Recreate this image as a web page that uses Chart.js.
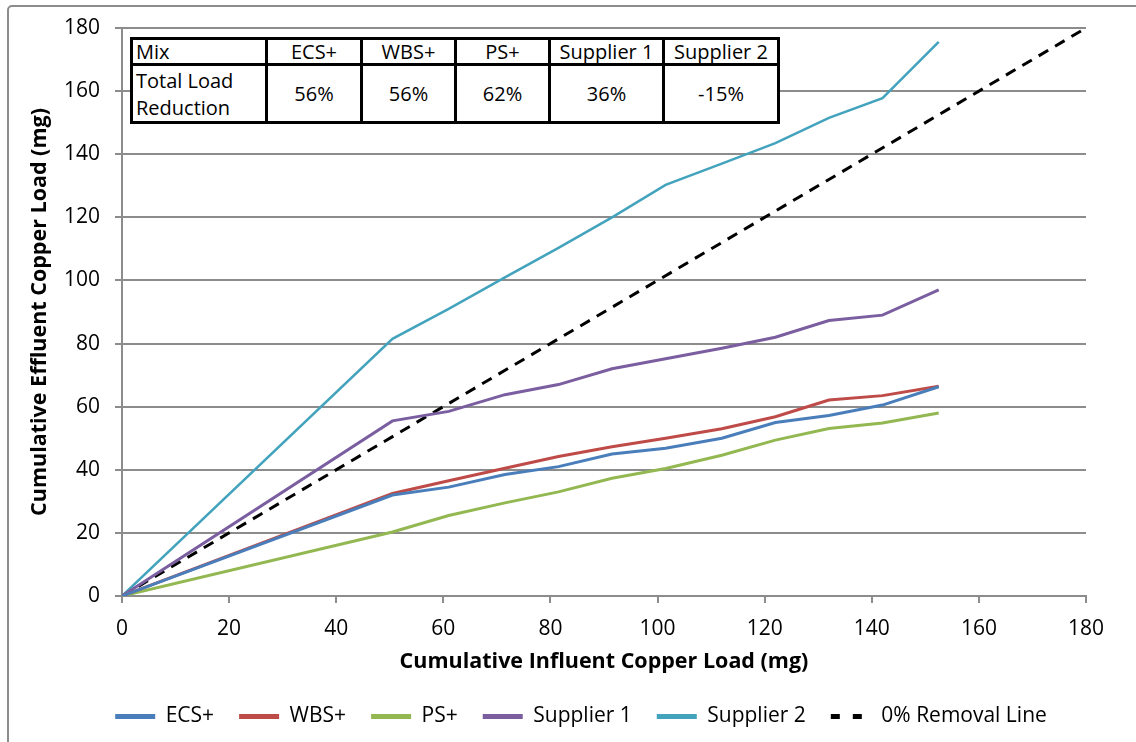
<!DOCTYPE html>
<html>
<head>
<meta charset="utf-8">
<script src="https://cdn.jsdelivr.net/npm/chart.js@4.4.0/dist/chart.umd.min.js"></script>
<style>
    body {margin: 0; background: #fff; overflow: hidden}
    #wrap {position: relative; width: 1136px; height: 742px}
    #frame {position: absolute; left: 7px; top: 5px; width: 1150px; height: 760px; border: 2px solid #8c8c8c; border-radius: 5px; box-sizing: border-box}
    #chart {position: absolute; left: 0; top: 0}
    #tbl {position: absolute; left: 130px; top: 37px; display: grid; background: #000; padding: 3px; gap: 3px;
          grid-template-columns: 132px 92px 91px 91px 111px 112px; grid-template-rows: 23px 55px;
          font-family: 'Open Sans', sans-serif; font-size: 20px; color: #000}
    #tbl div {background: #fff; display: flex; align-items: center; justify-content: center; line-height: 27px; white-space: nowrap}
    #tbl div.first {justify-content: flex-start; padding-left: 3px}
</style>
</head>
<body>
<div id="wrap">
    <div id="frame"></div>
    <canvas id="chart" width="1136" height="742"></canvas>
    <div id="tbl"></div>
</div>
<script>
// cumulative influent load (x), same sampling for every mix
const influent   = [0, 50.5, 61, 71.5, 81.5, 91.5, 101.5, 112, 122, 132, 142, 152.5]
const ecsPlus    = [0, 32, 34.5, 38.5, 41, 45, 46.8, 50, 55, 57.2, 60.5, 66.3]
const wbsPlus    = [0, 32.5, 36.5, 40.5, 44.2, 47.3, 50, 53, 56.8, 62.1, 63.5, 66.5]
const psPlus     = [0, 20.3, 25.5, 29.5, 33, 37.3, 40.4, 44.6, 49.4, 53.1, 54.8, 58]
const supplier1  = [0, 55.5, 58.5, 63.8, 67, 72, 75.2, 78.5, 82, 87.3, 89, 97]
const supplier2  = [0, 81.5, 91, 101, 110.3, 120, 130.3, 137, 143.5, 151.5, 157.8, 175.6]
const removalX   = [0, 180]
const removalY   = [0, 180]
const tickValues = [0, 20, 40, 60, 80, 100, 120, 140, 160, 180]

// table in the top left corner
const tableHead  = ['Mix', 'ECS+', 'WBS+', 'PS+', 'Supplier 1', 'Supplier 2']
const tableRow   = ['Total Load<br>Reduction', '56%', '56%', '62%', '36%', '-15%']

let tbl = document.getElementById('tbl')
tableHead.concat(tableRow).forEach(function (txt, i) {
    let cell = document.createElement('div')
    if (i % 6 === 0) cell.className = 'first'
    cell.innerHTML = txt
    tbl.appendChild(cell)
})

function toPoints(xs, ys) {
    return ys.map(function (y, i) { return {x: xs[i], y: y} })
}

Chart.defaults.font.family = "'Open Sans', sans-serif"
Chart.defaults.color = '#000'

const series = [
    {label: 'ECS+',       data: toPoints(influent, ecsPlus),   borderColor: '#4a7ebb', borderWidth: 3},
    {label: 'WBS+',       data: toPoints(influent, wbsPlus),   borderColor: '#be4b48', borderWidth: 3},
    {label: 'PS+',        data: toPoints(influent, psPlus),    borderColor: '#93b852', borderWidth: 3},
    {label: 'Supplier 1', data: toPoints(influent, supplier1), borderColor: '#7a5ea0', borderWidth: 3},
    {label: 'Supplier 2', data: toPoints(influent, supplier2), borderColor: '#43a3bd', borderWidth: 2.5},
    {label: '0% Removal Line', data: toPoints(removalX, removalY), borderColor: '#000', borderWidth: 3, borderDash: [11, 8]}
]
series.forEach(function (s) {
    s.showLine = true
    s.pointRadius = 0
    s.pointHoverRadius = 0
    s.pointBorderColor = s.borderColor
    s.fill = false
})

// push the legend a bit to the right, like the original
const legendShift = {
    id: 'legendShift',
    afterLayout: function (chart) {
        chart.legend.left += 38
        chart.legend.right += 38
    }
}

new Chart(document.getElementById('chart'), {
    type: 'scatter',
    data: {datasets: series},
    plugins: [legendShift],
    options: {
        responsive: false,
        animation: false,
        layout: {padding: {left: 0, right: 50, top: 28, bottom: 5}},
        plugins: {
            tooltip: {enabled: false},
            legend: {
                position: 'bottom',
                labels: {
                    font: {size: 21},
                    usePointStyle: true,
                    pointStyle: 'line',
                    pointStyleWidth: 40,
                    padding: 25,
                    generateLabels: function (chart) {
                        let items = Chart.defaults.plugins.legend.labels.generateLabels(chart)
                        items.forEach(function (it, i) {
                            it.lineWidth = 5
                            it.strokeStyle = series[i].borderColor
                            it.lineDash = series[i].borderDash ? [9, 13] : []
                        })
                        return items
                    }
                }
            }
        },
        scales: {
            x: {
                type: 'linear', min: 0, max: 180,
                afterBuildTicks: function (s) { s.ticks = tickValues.map(function (v) { return {value: v} }) },
                afterFit: function (s) { s.height = 85 },
                ticks: {font: {size: 21}, padding: 13},
                grid: {drawOnChartArea: false, color: '#8c8c8c', lineWidth: 2, tickLength: 7},
                border: {color: '#8c8c8c', width: 2},
                title: {display: true, text: 'Cumulative Influent Copper Load (mg)', font: {size: 21.5, weight: 'bold'}, padding: {top: 0, bottom: 6}}
            },
            y: {
                type: 'linear', min: 0, max: 180,
                afterBuildTicks: function (s) { s.ticks = tickValues.map(function (v) { return {value: v} }) },
                afterFit: function (s) { s.width = 122 },
                ticks: {font: {size: 21}, padding: 15},
                grid: {color: '#8c8c8c', lineWidth: 2, tickLength: 7},
                border: {color: '#8c8c8c', width: 2},
                title: {display: true, text: 'Cumulative Effluent Copper Load (mg)', font: {size: 21.5, weight: 'bold'}, padding: {top: 27, bottom: 0}}
            }
        }
    }
})
</script>
</body>
</html>
